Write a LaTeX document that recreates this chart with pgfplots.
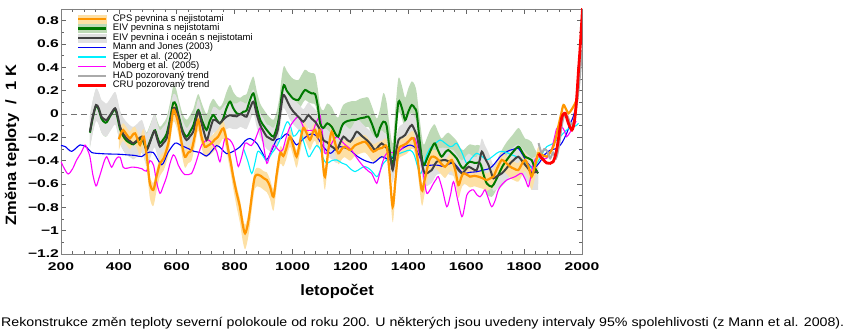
\documentclass[border=0pt]{standalone}
\usepackage{pgfplots}
\pgfplotsset{compat=1.18}
\usepackage{pgfplotstable}
\usepgfplotslibrary{fillbetween}
\usepackage{graphicx}
\usepackage{fontspec}
\setmainfont{Liberation Sans}
\newfontfamily\tickfont{Liberation Sans}[FakeStretch=1.4]
\newfontfamily\labfont{Liberation Sans}[FakeStretch=1.1]
\def\tickf{\tickfont\bfseries\fontsize{11.2}{13}\selectfont}
\def\labf{\labfont\bfseries\fontsize{15}{17}\selectfont}

\definecolor{orangeC}{RGB}{255,150,0}
\definecolor{orangeB}{RGB}{253,224,165}
\definecolor{greenC}{RGB}{0,120,0}
\definecolor{greenB}{RGB}{190,218,182}
\definecolor{greyC}{RGB}{64,64,64}
\definecolor{greyB}{RGB}{224,224,224}
\definecolor{blueC}{RGB}{0,0,245}
\definecolor{cyanC}{RGB}{0,240,255}
\definecolor{magC}{RGB}{255,0,255}
\definecolor{hadC}{RGB}{170,170,170}
\definecolor{redC}{RGB}{255,0,0}

% Mann and Jones (2003)
\pgfplotstableread{
x y
200 -0.27
215 -0.28
237 -0.32
266 -0.265
289 -0.286
306 -0.33
340 -0.34
369 -0.343
400 -0.345
427 -0.35
455 -0.355
479 -0.365
496 -0.335
519 -0.33
548 -0.435
570 -0.33
594 -0.25
615 -0.27
634 -0.29
660 -0.32
680 -0.33
703 -0.36
720 -0.32
738 -0.27
755 -0.30
772 -0.34
795 -0.32
819 -0.28
836 -0.23
853 -0.21
876 -0.25
895 -0.33
911 -0.39
930 -0.30
945 -0.22
960 -0.21
980 -0.17
1000 -0.22
1014 -0.265
1030 -0.23
1049 -0.19
1066 -0.17
1083 -0.19
1106 -0.28
1130 -0.337
1148 -0.30
1164 -0.28
1180 -0.29
1199 -0.31
1222 -0.36
1245 -0.394
1262 -0.41
1279 -0.42
1295 -0.39
1308 -0.366
1323 -0.38
1337 -0.394
1355 -0.35
1371 -0.31
1390 -0.28
1406 -0.266
1420 -0.28
1429 -0.31
1445 -0.40
1460 -0.44
1487 -0.437
1505 -0.44
1521 -0.45
1540 -0.43
1556 -0.42
1575 -0.47
1590 -0.51
1612 -0.50
1636 -0.495
1660 -0.48
1682 -0.466
1700 -0.42
1717 -0.366
1735 -0.33
1752 -0.31
1766 -0.30
1780 -0.295
1795 -0.35
1809 -0.41
1832 -0.466
1855 -0.41
1870 -0.35
1890 -0.31
1913 -0.295
1930 -0.25
1947 -0.166
1960 -0.08
1970 -0.02
1982 0.09
}\mannjones

% Moberg et al. (2005)
\pgfplotstableread{
x y
200 -0.41
212 -0.47
225 -0.514
240 -0.47
254 -0.394
270 -0.33
283 -0.266
292 -0.31
300 -0.366
310 -0.52
321 -0.617
330 -0.56
340 -0.48
350 -0.40
358 -0.366
366 -0.41
375 -0.457
383 -0.42
392 -0.38
404 -0.37
415 -0.457
428 -0.465
445 -0.455
465 -0.46
480 -0.47
495 -0.49
507 -0.40
520 -0.44
530 -0.58
542 -0.68
553 -0.62
565 -0.537
577 -0.42
588 -0.35
597 -0.38
605 -0.437
617 -0.49
628 -0.52
640 -0.52
651 -0.51
660 -0.46
669 -0.394
678 -0.32
686 -0.266
703 -0.223
714 -0.23
726 -0.266
738 -0.32
749 -0.41
758 -0.30
767 -0.21
784 -0.223
797 -0.28
806 -0.38
813 -0.45
825 -0.36
836 -0.25
848 -0.26
858 -0.27
870 -0.223
880 -0.16
888 -0.123
898 -0.24
911 -0.423
922 -0.34
934 -0.266
945 -0.29
957 -0.32
967 -0.30
978 -0.20
991 -0.11
1004 -0.06
1020 -0.023
1032 -0.08
1043 -0.137
1058 -0.14
1072 -0.137
1080 -0.08
1089 -0.037
1095 -0.01
1104 -0.18
1112 -0.337
1125 -0.30
1140 -0.23
1153 -0.194
1165 -0.22
1176 -0.25
1190 -0.28
1204 -0.31
1215 -0.35
1227 -0.394
1245 -0.45
1262 -0.49
1273 -0.509
1283 -0.56
1291 -0.594
1300 -0.52
1308 -0.437
1316 -0.38
1325 -0.337
1343 -0.33
1360 -0.337
1372 -0.31
1383 -0.28
1395 -0.24
1406 -0.223
1416 -0.21
1423 -0.209
1434 -0.30
1446 -0.423
1456 -0.58
1464 -0.68
1475 -0.65
1487 -0.594
1496 -0.56
1504 -0.537
1518 -0.65
1533 -0.795
1545 -0.70
1556 -0.58
1570 -0.73
1585 -0.88
1594 -0.80
1602 -0.695
1613 -0.66
1625 -0.65
1636 -0.69
1648 -0.71
1657 -0.68
1665 -0.65
1676 -0.72
1688 -0.795
1700 -0.74
1711 -0.65
1725 -0.60
1740 -0.566
1755 -0.55
1769 -0.537
1780 -0.52
1792 -0.509
1804 -0.56
1815 -0.623
1824 -0.52
1832 -0.423
1844 -0.37
1855 -0.366
1866 -0.38
1878 -0.38
1895 -0.30
1905 -0.20
1913 -0.123
1930 -0.109
1940 -0.15
1947 -0.194
1958 -0.16
1970 -0.109
1980 -0.06
}\moberg

% Esper et al. (2002)
\pgfplotstableread{
x y
831 -0.30
845 -0.40
859 -0.51
870 -0.42
880 -0.32
895 -0.35
911 -0.40
930 -0.33
945 -0.28
960 -0.20
980 -0.07
992 -0.10
1003 -0.19
1015 -0.17
1026 -0.14
1040 -0.25
1055 -0.366
1065 -0.34
1083 -0.27
1095 -0.30
1106 -0.38
1118 -0.423
1135 -0.40
1153 -0.394
1170 -0.42
1187 -0.437
1200 -0.47
1216 -0.494
1233 -0.47
1250 -0.45
1270 -0.48
1291 -0.537
1302 -0.49
1314 -0.423
1328 -0.39
1343 -0.366
1360 -0.35
1371 -0.337
1390 -0.32
1406 -0.31
1420 -0.35
1440 -0.509
1452 -0.45
1462 -0.36
1475 -0.295
1490 -0.26
1510 -0.223
1527 -0.25
1544 -0.28
1556 -0.27
1567 -0.25
1585 -0.33
1602 -0.423
1618 -0.38
1636 -0.337
1653 -0.36
1671 -0.394
1688 -0.37
1705 -0.337
1720 -0.32
1740 -0.33
1757 -0.35
1775 -0.366
1792 -0.39
1809 -0.423
1820 -0.45
1832 -0.466
1850 -0.40
1865 -0.33
1878 -0.28
1895 -0.26
1913 -0.223
1930 -0.18
1947 -0.137
1958 -0.12
1970 -0.109
1980 -0.10
1988 -0.08
}\esper

% EIV land+ocean: value, lower, upper
\pgfplotstableread{
x y lo hi
300 -0.15 -0.29 -0.01
310 -0.02 -0.16 0.12
321 0.077 -0.06 0.22
330 0.05 -0.09 0.19
340 -0.023 -0.16 0.12
350 -0.045 -0.19 0.10
358 -0.05 -0.19 0.09
372 0.00 -0.14 0.14
387 0.049 -0.09 0.19
396 -0.02 -0.16 0.12
404 -0.109 -0.25 0.03
415 -0.17 -0.31 -0.03
427 -0.209 -0.35 -0.07
440 -0.235 -0.37 -0.10
450 -0.251 -0.39 -0.11
465 -0.22 -0.36 -0.08
479 -0.194 -0.33 -0.05
488 -0.25 -0.39 -0.11
496 -0.309 -0.45 -0.17
508 -0.24 -0.38 -0.10
519 -0.16 -0.30 -0.02
525 -0.151 -0.29 -0.01
533 -0.22 -0.36 -0.08
542 -0.28 -0.42 -0.14
553 -0.25 -0.39 -0.11
565 -0.209 -0.35 -0.07
577 -0.07 -0.20 0.06
588 0.049 -0.07 0.17
597 0.04 -0.08 0.16
605 -0.02 -0.14 0.10
620 -0.16 -0.27 -0.05
634 -0.223 -0.33 -0.12
646 -0.19 -0.30 -0.08
657 -0.151 -0.26 -0.04
666 -0.06 -0.17 0.05
675 0.02 -0.09 0.13
688 -0.10 -0.21 0.01
703 -0.223 -0.33 -0.12
714 -0.14 -0.25 -0.03
726 -0.05 -0.16 0.06
738 -0.06 -0.17 0.05
749 -0.08 -0.19 0.03
760 -0.05 -0.16 0.06
772 -0.023 -0.13 0.09
784 -0.01 -0.12 0.10
795 -0.017 -0.13 0.09
807 -0.02 -0.13 0.09
820 0.0 -0.11 0.11
830 -0.01 -0.12 0.10
841 -0.023 -0.13 0.09
853 0.05 -0.06 0.16
865 0.106 0.00 0.21
876 0.00 -0.11 0.11
888 -0.094 -0.20 0.01
900 -0.15 -0.26 -0.04
911 -0.194 -0.30 -0.09
922 -0.21 -0.32 -0.10
934 -0.223 -0.33 -0.12
945 -0.17 -0.28 -0.06
951 -0.109 -0.22 0.00
960 0.05 -0.06 0.16
968 0.163 0.05 0.27
980 0.12 0.01 0.23
991 0.063 -0.05 0.17
1003 0.02 -0.09 0.13
1014 -0.009 -0.12 0.10
1026 -0.04 -0.15 0.07
1037 -0.066 -0.17 0.04
1046 -0.04 -0.15 0.07
1055 -0.009 -0.12 0.10
1066 -0.04 -0.15 0.07
1078 -0.066 -0.17 0.04
1087 -0.10 -0.21 0.01
1095 -0.137 -0.25 -0.03
1106 -0.223 -0.33 -0.12
1118 -0.24 -0.35 -0.13
1130 -0.27 -0.38 -0.16
1142 -0.29 -0.40 -0.18
1153 -0.309 -0.42 -0.20
1164 -0.25 -0.36 -0.14
1176 -0.194 -0.30 -0.09
1188 -0.22 -0.33 -0.11
1199 -0.237 -0.35 -0.13
1210 -0.20 -0.31 -0.09
1222 -0.152 -0.26 -0.04
1240 -0.19 -0.30 -0.08
1256 -0.223 -0.33 -0.12
1270 -0.26 -0.37 -0.15
1285 -0.309 -0.42 -0.20
1296 -0.28 -0.39 -0.17
1308 -0.252 -0.36 -0.14
1320 -0.28 -0.39 -0.17
1331 -0.309 -0.42 -0.20
1340 -0.40 -0.51 -0.29
1346 -0.48 -0.59 -0.37
1355 -0.36 -0.47 -0.25
1366 -0.223 -0.33 -0.12
1378 -0.20 -0.31 -0.09
1389 -0.18 -0.29 -0.07
1400 -0.13 -0.24 -0.02
1412 -0.094 -0.20 0.01
1422 -0.14 -0.25 -0.03
1429 -0.18 -0.29 -0.07
1440 -0.32 -0.43 -0.21
1450 -0.46 -0.57 -0.35
1458 -0.509 -0.62 -0.40
1470 -0.50 -0.61 -0.39
1481 -0.48 -0.59 -0.37
1490 -0.44 -0.55 -0.33
1498 -0.409 -0.52 -0.30
1512 -0.40 -0.51 -0.29
1527 -0.394 -0.50 -0.29
1542 -0.41 -0.52 -0.30
1556 -0.423 -0.53 -0.31
1570 -0.47 -0.58 -0.36
1585 -0.509 -0.62 -0.40
1597 -0.48 -0.59 -0.37
1608 -0.452 -0.56 -0.34
1622 -0.47 -0.58 -0.36
1636 -0.48 -0.59 -0.37
1646 -0.40 -0.51 -0.29
1654 -0.323 -0.43 -0.21
1665 -0.38 -0.49 -0.27
1677 -0.437 -0.55 -0.33
1686 -0.50 -0.61 -0.39
1694 -0.552 -0.66 -0.44
1708 -0.53 -0.64 -0.42
1723 -0.509 -0.62 -0.40
1738 -0.47 -0.58 -0.36
1752 -0.423 -0.53 -0.31
1766 -0.39 -0.50 -0.28
1780 -0.366 -0.48 -0.26
1795 -0.41 -0.52 -0.30
1809 -0.452 -0.57 -0.34
1818 -0.48 -0.61 -0.36
1826 -0.509 -0.65 -0.38
1835 -0.50 -0.65 -0.37
1848 -0.494 -0.65 -0.36
}\eivlo

% EIV land: value, lower, upper
\pgfplotstableread{
x y lo hi
300 -0.16 -0.28 -0.02
310 -0.03 -0.15 0.11
321 0.07 -0.05 0.21
330 0.04 -0.08 0.18
340 -0.04 -0.16 0.10
350 -0.07 -0.19 0.07
358 -0.07 -0.19 0.07
372 -0.01 -0.13 0.13
387 0.04 -0.08 0.18
396 -0.04 -0.16 0.10
404 -0.13 -0.25 0.01
415 -0.19 -0.31 -0.05
427 -0.23 -0.35 -0.09
440 -0.25 -0.37 -0.11
450 -0.26 -0.38 -0.12
465 -0.23 -0.35 -0.09
479 -0.21 -0.33 -0.07
488 -0.26 -0.38 -0.12
496 -0.30 -0.42 -0.16
508 -0.23 -0.35 -0.09
519 -0.16 -0.28 -0.02
525 -0.14 -0.26 0.00
533 -0.20 -0.32 -0.06
542 -0.25 -0.37 -0.11
553 -0.22 -0.34 -0.08
565 -0.17 -0.29 -0.03
577 -0.04 -0.14 0.10
588 0.097 0.00 0.24
597 0.08 -0.01 0.22
605 0.0 -0.09 0.14
620 -0.14 -0.23 0.00
634 -0.194 -0.28 -0.05
646 -0.15 -0.24 -0.01
657 -0.10 -0.19 0.04
666 -0.02 -0.11 0.12
675 0.034 -0.06 0.17
688 -0.06 -0.15 0.08
703 -0.137 -0.23 0.00
714 -0.06 -0.15 0.08
726 -0.009 -0.10 0.13
738 -0.05 -0.14 0.09
749 -0.08 -0.17 0.06
760 -0.04 -0.13 0.10
772 0.05 -0.04 0.19
784 0.106 0.02 0.25
795 0.05 -0.04 0.19
807 0.006 -0.08 0.15
820 0.0 -0.09 0.14
830 0.02 -0.07 0.16
841 0.03 -0.06 0.17
853 0.12 0.03 0.26
865 0.177 0.09 0.32
876 0.06 -0.03 0.20
888 -0.05 -0.14 0.09
900 -0.10 -0.19 0.04
911 -0.137 -0.23 0.00
922 -0.17 -0.26 -0.03
934 -0.194 -0.28 -0.05
945 -0.12 -0.21 0.02
955 0.0 -0.09 0.15
962 0.15 0.06 0.31
970 0.249 0.16 0.41
980 0.20 0.11 0.37
991 0.163 0.07 0.33
1003 0.13 0.04 0.30
1020 0.12 0.03 0.29
1030 0.16 0.07 0.33
1043 0.206 0.12 0.38
1055 0.19 0.10 0.36
1066 0.177 0.09 0.35
1078 0.17 0.08 0.34
1087 0.07 -0.02 0.22
1095 -0.08 -0.17 0.07
1106 -0.12 -0.21 0.03
1120 -0.08 -0.17 0.09
1135 -0.109 -0.20 0.06
1148 -0.17 -0.26 -0.01
1158 -0.194 -0.28 -0.03
1168 -0.12 -0.21 0.04
1176 -0.08 -0.17 0.08
1190 -0.06 -0.15 0.10
1204 -0.052 -0.14 0.11
1218 -0.05 -0.14 0.11
1233 -0.037 -0.13 0.13
1250 -0.03 -0.12 0.14
1262 -0.023 -0.11 0.14
1275 -0.09 -0.18 0.06
1291 -0.194 -0.28 -0.04
1302 -0.12 -0.21 0.04
1314 -0.066 -0.16 0.18
1325 -0.10 -0.19 0.10
1335 -0.30 -0.39 -0.10
1346 -0.452 -0.54 -0.25
1356 -0.15 -0.24 0.07
1366 0.105 0.01 0.31
1378 0.05 -0.04 0.24
1389 -0.052 -0.14 0.14
1400 0.02 -0.07 0.22
1412 0.077 -0.01 0.28
1422 0.05 -0.04 0.25
1429 0.006 -0.08 0.18
1440 -0.25 -0.34 -0.06
1452 -0.437 -0.53 -0.26
1465 -0.38 -0.47 -0.20
1475 -0.323 -0.41 -0.14
1485 -0.27 -0.36 -0.10
1492 -0.252 -0.34 -0.09
1504 -0.32 -0.41 -0.16
1515 -0.366 -0.46 -0.21
1527 -0.33 -0.42 -0.18
1538 -0.309 -0.40 -0.16
1552 -0.34 -0.43 -0.19
1567 -0.38 -0.47 -0.23
1580 -0.44 -0.53 -0.29
1590 -0.466 -0.56 -0.31
1602 -0.43 -0.52 -0.28
1613 -0.409 -0.50 -0.26
1630 -0.42 -0.51 -0.27
1648 -0.423 -0.51 -0.27
1660 -0.52 -0.61 -0.37
1671 -0.595 -0.69 -0.44
1688 -0.623 -0.71 -0.47
1700 -0.58 -0.67 -0.43
1711 -0.523 -0.61 -0.37
1725 -0.45 -0.54 -0.30
1740 -0.394 -0.48 -0.24
1760 -0.33 -0.42 -0.18
1780 -0.28 -0.37 -0.12
1792 -0.32 -0.41 -0.16
1803 -0.366 -0.46 -0.21
1815 -0.38 -0.47 -0.22
1826 -0.394 -0.48 -0.24
1835 -0.45 -0.54 -0.29
1848 -0.509 -0.60 -0.35
}\eivland

% CPS land: value, lower, upper
\pgfplotstableread{
x y lo hi
400 -0.217 -0.31 -0.16
408 -0.16 -0.25 -0.10
415 -0.137 -0.23 -0.08
425 -0.17 -0.26 -0.11
438 -0.209 -0.30 -0.15
447 -0.18 -0.27 -0.12
456 -0.166 -0.26 -0.11
465 -0.22 -0.31 -0.16
473 -0.266 -0.36 -0.21
480 -0.21 -0.30 -0.15
486 -0.194 -0.28 -0.13
492 -0.28 -0.38 -0.22
498 -0.394 -0.50 -0.33
507 -0.594 -0.72 -0.53
519 -0.651 -0.79 -0.59
530 -0.537 -0.66 -0.48
542 -0.423 -0.53 -0.36
555 -0.38 -0.48 -0.32
571 -0.251 -0.35 -0.19
580 -0.10 -0.19 -0.04
588 0.034 -0.06 0.09
596 0.00 -0.09 0.06
605 -0.08 -0.17 -0.02
617 -0.25 -0.34 -0.19
628 -0.366 -0.46 -0.31
640 -0.33 -0.42 -0.27
651 -0.309 -0.40 -0.25
663 -0.18 -0.27 -0.12
674 -0.052 -0.14 0.01
686 -0.20 -0.29 -0.14
697 -0.28 -0.37 -0.22
708 -0.27 -0.36 -0.21
720 -0.251 -0.34 -0.19
731 -0.22 -0.31 -0.16
743 -0.194 -0.28 -0.13
752 -0.15 -0.24 -0.09
761 -0.123 -0.21 -0.06
770 -0.20 -0.29 -0.14
778 -0.309 -0.40 -0.25
787 -0.42 -0.52 -0.36
795 -0.537 -0.64 -0.48
807 -0.68 -0.80 -0.62
818 -0.795 -0.93 -0.73
828 -0.95 -1.09 -0.88
836 -1.023 -1.16 -0.95
845 -0.95 -1.08 -0.88
853 -0.823 -0.95 -0.76
862 -0.65 -0.76 -0.59
870 -0.537 -0.64 -0.48
880 -0.52 -0.62 -0.46
890 -0.53 -0.63 -0.47
900 -0.55 -0.65 -0.49
911 -0.566 -0.67 -0.50
922 -0.62 -0.73 -0.56
934 -0.709 -0.83 -0.64
945 -0.52 -0.63 -0.46
957 -0.337 -0.43 -0.28
968 -0.36 -0.45 -0.30
978 -0.30 -0.39 -0.24
991 -0.194 -0.28 -0.13
1003 -0.28 -0.37 -0.22
1014 -0.366 -0.46 -0.31
1025 -0.25 -0.34 -0.19
1037 -0.12 -0.21 -0.06
1048 -0.16 -0.25 -0.10
1060 -0.223 -0.31 -0.16
1070 -0.16 -0.25 -0.10
1078 -0.137 -0.23 -0.08
1087 -0.20 -0.29 -0.14
1095 -0.14 -0.23 -0.08
1104 -0.40 -0.50 -0.34
1112 -0.537 -0.65 -0.47
1124 -0.30 -0.39 -0.24
1135 -0.152 -0.24 -0.09
1147 -0.25 -0.34 -0.19
1158 -0.337 -0.43 -0.28
1170 -0.30 -0.39 -0.24
1180 -0.28 -0.37 -0.22
1199 -0.309 -0.40 -0.25
1215 -0.27 -0.36 -0.21
1233 -0.25 -0.34 -0.19
1251 -0.237 -0.33 -0.18
1265 -0.28 -0.37 -0.22
1279 -0.323 -0.41 -0.26
1295 -0.30 -0.39 -0.24
1310 -0.29 -0.38 -0.23
1325 -0.28 -0.37 -0.22
1335 -0.50 -0.61 -0.44
1346 -0.795 -0.93 -0.73
1356 -0.55 -0.66 -0.49
1366 -0.309 -0.40 -0.25
1380 -0.27 -0.36 -0.21
1395 -0.252 -0.34 -0.19
1406 -0.22 -0.31 -0.16
1418 -0.209 -0.30 -0.15
1430 -0.35 -0.45 -0.29
1446 -0.652 -0.78 -0.59
1455 -0.58 -0.70 -0.52
1464 -0.48 -0.59 -0.42
1472 -0.40 -0.50 -0.34
1481 -0.366 -0.46 -0.31
1492 -0.37 -0.46 -0.31
1504 -0.394 -0.49 -0.33
1515 -0.43 -0.52 -0.37
1527 -0.452 -0.55 -0.39
1538 -0.42 -0.51 -0.36
1550 -0.394 -0.49 -0.33
1562 -0.48 -0.58 -0.42
1573 -0.609 -0.72 -0.55
1582 -0.55 -0.65 -0.49
1590 -0.509 -0.60 -0.45
1602 -0.52 -0.61 -0.46
1613 -0.537 -0.63 -0.48
1628 -0.53 -0.62 -0.47
1642 -0.537 -0.63 -0.48
1656 -0.55 -0.64 -0.49
1671 -0.566 -0.66 -0.51
1684 -0.55 -0.64 -0.49
1694 -0.537 -0.63 -0.48
1708 -0.46 -0.55 -0.40
1723 -0.394 -0.49 -0.33
1738 -0.42 -0.51 -0.36
1752 -0.452 -0.55 -0.39
1766 -0.47 -0.57 -0.41
1780 -0.48 -0.58 -0.42
1792 -0.43 -0.53 -0.37
1803 -0.394 -0.49 -0.33
1815 -0.45 -0.55 -0.39
1826 -0.537 -0.65 -0.47
1838 -0.44 -0.54 -0.38
1849 -0.337 -0.43 -0.28
1862 -0.35 -0.35 -0.35
1878 -0.366 -0.366 -0.366
1890 -0.33 -0.33 -0.33
1901 -0.28 -0.28 -0.28
1910 -0.20 -0.20 -0.20
1918 -0.109 -0.109 -0.109
1928 0.00 0.00 0.00
1936 0.077 0.077 0.077
1945 0.04 0.04 0.04
1953 0.006 0.006 0.006
1962 0.03 0.03 0.03
1970 0.063 0.063 0.063
1978 0.10 0.10 0.10
1985 0.14 0.14 0.14
}\cps

% HAD observed
\pgfplotstableread{
x y
1850 -0.25
1860 -0.33
1870 -0.30
1880 -0.32
1890 -0.38
1900 -0.33
1910 -0.38
1920 -0.28
1930 -0.10
1940 0.00
1950 -0.02
1960 -0.08
1970 -0.08
1980 0.05
1990 0.25
2000 0.55
}\had

% CRU observed
\pgfplotstableread{
x y
1850 -0.34
1858 -0.37
1867 -0.394
1878 -0.42
1890 -0.423
1900 -0.41
1907 -0.366
1913 -0.30
1918 -0.223
1924 -0.12
1930 -0.03
1936 0.00
1942 0.006
1948 -0.04
1953 -0.08
1960 -0.12
1965 -0.137
1970 -0.11
1976 -0.02
1982 0.15
1988 0.377
1993 0.548
1998 0.75
2003 0.95
}\cru

\begin{document}
\begin{tikzpicture}
\begin{axis}[
  scale only axis, width=521pt, height=245pt,
  xmin=200, xmax=2000, ymin=-1.2, ymax=0.9,
  xtick={200,400,600,800,1000,1200,1400,1600,1800,2000},
  xticklabels={200,400,600,800,1000,1200,1400,1600,1800,2000},
  ytick={-1.2,-1,-0.8,-0.6,-0.4,-0.2,0,0.2,0.4,0.6,0.8},
  yticklabels={−1.2,−1,−0.8,−0.6,−0.4,−0.2,0,0.2,0.4,0.6,0.8},
  minor x tick num=4, minor y tick num=1,
  tick align=inside, major tick length=5pt, minor tick length=3pt,
  axis line style={draw=black!50, line width=0.8pt},
  every tick/.style={black!60, line width=0.6pt},
  ticklabel style={font=\tickf},
  xticklabel style={yshift=-5pt},
  yticklabel style={xshift=1.5pt},
  xlabel={letopočet},
  ylabel={Změna teploty \ / \ 1 K},
  every axis x label/.style={at={(axis description cs:0.53,-0.171)}, anchor=base, font=\labf},
  every axis y label/.style={at={(axis description cs:-0.094,0.445)}, rotate=90, anchor=center, font=\labf},
  legend style={at={(axis description cs:0.030,0.980)}, anchor=north west, draw=none, fill=none,
    font=\fontsize{9.5}{10}\selectfont, inner sep=0pt, row sep=0pt, column sep=5pt,
    nodes={inner sep=0.5pt, text height=6.7pt, text depth=1.8pt}},
  legend cell align=left,
]
\addlegendimage{legend image code/.code={\fill[orangeB] (0pt,-4pt) rectangle (28pt,4pt); \draw[orangeC, line width=2.5pt] (0pt,0pt) -- (28pt,0pt);}}
\addlegendentry{CPS pevnina s nejistotami}
\addlegendimage{legend image code/.code={\fill[greenB] (0pt,-4pt) rectangle (28pt,4pt); \draw[greenC, line width=2.5pt] (0pt,0pt) -- (28pt,0pt);}}
\addlegendentry{EIV pevnina s nejistotami}
\addlegendimage{legend image code/.code={\fill[greyB] (0pt,-4pt) rectangle (28pt,4pt); \draw[greyC, line width=2.5pt] (0pt,0pt) -- (28pt,0pt);}}
\addlegendentry{EIV pevnina i oceán s nejistotami}
\addlegendimage{legend image code/.code={\draw[blueC, line width=1.5pt] (0pt,0pt) -- (28pt,0pt);}}
\addlegendentry{Mann and Jones (2003)}
\addlegendimage{legend image code/.code={\draw[cyanC, line width=1.5pt] (0pt,0pt) -- (28pt,0pt);}}
\addlegendentry{Esper et al. (2002)}
\addlegendimage{legend image code/.code={\draw[magC, line width=1.5pt] (0pt,0pt) -- (28pt,0pt);}}
\addlegendentry{Moberg et al. (2005)}
\addlegendimage{legend image code/.code={\draw[hadC, line width=2.5pt] (0pt,0pt) -- (28pt,0pt);}}
\addlegendentry{HAD pozorovaný trend}
\addlegendimage{legend image code/.code={\draw[redC, line width=2.5pt] (0pt,0pt) -- (28pt,0pt);}}
\addlegendentry{CRU pozorovaný trend}

% uncertainty bands
\addplot[draw=none, smooth, name path=gLo, forget plot] table[x=x,y=lo]{\eivland};
\addplot[draw=none, smooth, name path=gHi, forget plot] table[x=x,y=hi]{\eivland};
\addplot[fill=greenB, draw=none, forget plot] fill between[of=gLo and gHi];
\addplot[draw=none, smooth, name path=kLo, forget plot] table[x=x,y=lo]{\eivlo};
\addplot[draw=none, smooth, name path=kHi, forget plot] table[x=x,y=hi]{\eivlo};
\addplot[fill=greyB, draw=none, forget plot] fill between[of=kLo and kHi];
\addplot[draw=none, smooth, name path=oLo, forget plot] table[x=x,y=lo]{\cps};
\addplot[draw=none, smooth, name path=oHi, forget plot] table[x=x,y=hi]{\cps};
\addplot[fill=orangeB, draw=none, forget plot] fill between[of=oLo and oHi];

% zero line
\addplot[black!55, line width=0.9pt, dash pattern=on 6pt off 4pt, forget plot] coordinates {(200,0) (2000,0)};

% reconstructions
\addplot[blueC, line width=1.1pt, smooth, forget plot] table[x=x,y=y]{\mannjones};
\addplot[cyanC, line width=1.1pt, smooth, forget plot] table[x=x,y=y]{\esper};
\addplot[magC, line width=1.1pt, smooth, forget plot] table[x=x,y=y]{\moberg};
\addplot[greenC, line width=2pt, smooth, forget plot] table[x=x,y=y]{\eivland};
\addplot[greyC, line width=2pt, smooth, forget plot] table[x=x,y=y]{\eivlo};
\addplot[orangeC, line width=2.2pt, smooth, forget plot] table[x=x,y=y]{\cps};
\addplot[hadC, line width=2pt, smooth, forget plot] table[x=x,y=y]{\had};
\addplot[redC, line width=2.8pt, smooth, forget plot] table[x=x,y=y]{\cru};
\end{axis}
\node[anchor=base west, inner sep=0pt, font=\fontsize{12.5}{14}\selectfont] at (-60pt,-73pt)
  {\resizebox{843pt}{\height}{Rekonstrukce změn teploty severní polokoule od roku 200. U některých jsou uvedeny intervaly 95\% spolehlivosti (z Mann et al. 2008).}};
\pgfresetboundingbox
\path[use as bounding box] (-61pt,-80pt) rectangle (791pt,254pt);
\end{tikzpicture}
\end{document}
